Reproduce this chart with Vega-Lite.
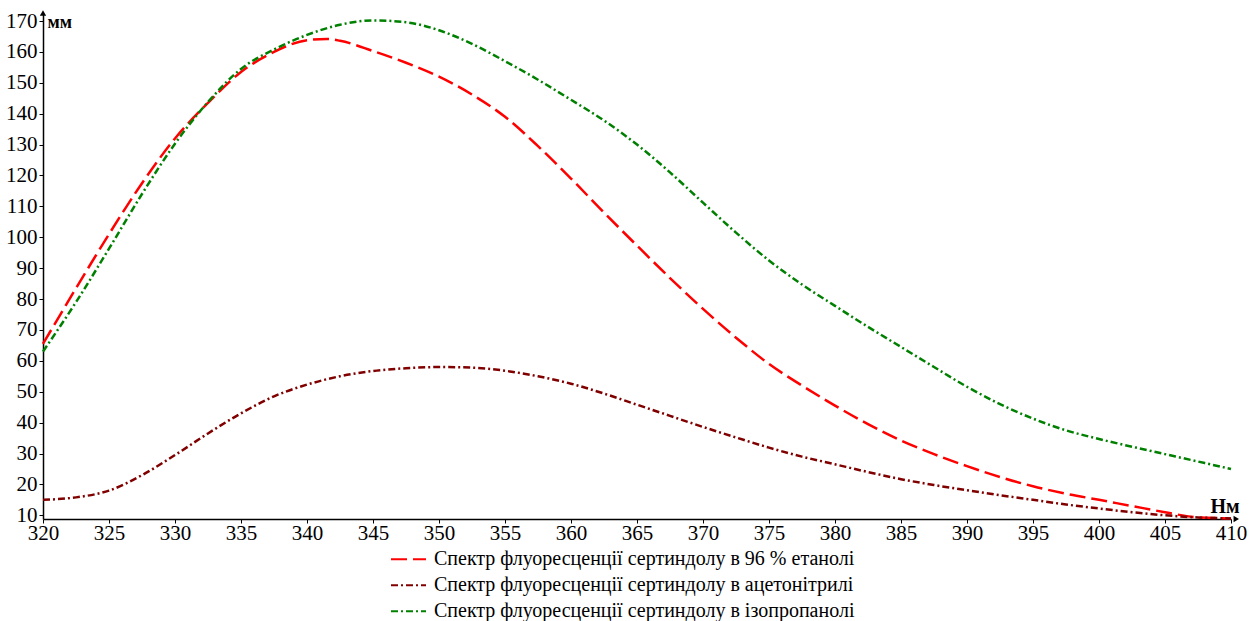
{
  "$schema": "https://vega.github.io/schema/vega-lite/v6.json",
  "width": 1188,
  "height": 506,
  "autosize": {"type": "none"},
  "padding": {"left": 43, "top": 13, "right": 22, "bottom": 102},
  "background": "white",
  "config": {
    "view": {"stroke": null},
    "font": "Liberation Serif",
    "axis": {
      "grid": false,
      "domainColor": "black",
      "domainWidth": 1.5,
      "tickColor": "black",
      "tickWidth": 1,
      "tickSize": 4,
      "labelFont": "Liberation Serif",
      "labelFontSize": 21,
      "labelColor": "black",
      "titleFont": "Liberation Serif",
      "titleColor": "black"
    }
  },
  "layer": [
    {
      "data": {
        "values": [
          {"x": 320, "y": 65.5, "series": "Спектр флуоресценції сертиндолу в 96 % етанолі"},
          {"x": 322.5, "y": 83.5, "series": "Спектр флуоресценції сертиндолу в 96 % етанолі"},
          {"x": 325, "y": 101, "series": "Спектр флуоресценції сертиндолу в 96 % етанолі"},
          {"x": 327.5, "y": 117.5, "series": "Спектр флуоресценції сертиндолу в 96 % етанолі"},
          {"x": 330, "y": 132, "series": "Спектр флуоресценції сертиндолу в 96 % етанолі"},
          {"x": 332.5, "y": 143.5, "series": "Спектр флуоресценції сертиндолу в 96 % етанолі"},
          {"x": 335, "y": 153.5, "series": "Спектр флуоресценції сертиндолу в 96 % етанолі"},
          {"x": 337.5, "y": 160, "series": "Спектр флуоресценції сертиндолу в 96 % етанолі"},
          {"x": 340, "y": 163.8, "series": "Спектр флуоресценції сертиндолу в 96 % етанолі"},
          {"x": 341.5, "y": 164.2, "series": "Спектр флуоресценції сертиндолу в 96 % етанолі"},
          {"x": 342.5, "y": 163.6, "series": "Спектр флуоресценції сертиндолу в 96 % етанолі"},
          {"x": 345, "y": 160.3, "series": "Спектр флуоресценції сертиндолу в 96 % етанолі"},
          {"x": 347.5, "y": 156.5, "series": "Спектр флуоресценції сертиндолу в 96 % етанолі"},
          {"x": 350, "y": 152, "series": "Спектр флуоресценції сертиндолу в 96 % етанолі"},
          {"x": 352.5, "y": 146.2, "series": "Спектр флуоресценції сертиндолу в 96 % етанолі"},
          {"x": 355, "y": 139, "series": "Спектр флуоресценції сертиндолу в 96 % етанолі"},
          {"x": 357.5, "y": 129.5, "series": "Спектр флуоресценції сертиндолу в 96 % етанолі"},
          {"x": 360, "y": 119, "series": "Спектр флуоресценції сертиндолу в 96 % етанолі"},
          {"x": 362.5, "y": 108, "series": "Спектр флуоресценції сертиндолу в 96 % етанолі"},
          {"x": 365, "y": 97.3, "series": "Спектр флуоресценції сертиндолу в 96 % етанолі"},
          {"x": 367.5, "y": 86.8, "series": "Спектр флуоресценції сертиндолу в 96 % етанолі"},
          {"x": 370, "y": 76.8, "series": "Спектр флуоресценції сертиндолу в 96 % етанолі"},
          {"x": 372.5, "y": 67.5, "series": "Спектр флуоресценції сертиндолу в 96 % етанолі"},
          {"x": 375, "y": 59, "series": "Спектр флуоресценції сертиндолу в 96 % етанолі"},
          {"x": 377.5, "y": 52, "series": "Спектр флуоресценції сертиндолу в 96 % етанолі"},
          {"x": 380, "y": 45.5, "series": "Спектр флуоресценції сертиндолу в 96 % етанолі"},
          {"x": 382.5, "y": 39.5, "series": "Спектр флуоресценції сертиндолу в 96 % етанолі"},
          {"x": 385, "y": 34.2, "series": "Спектр флуоресценції сертиндолу в 96 % етанолі"},
          {"x": 387.5, "y": 29.8, "series": "Спектр флуоресценції сертиндолу в 96 % етанолі"},
          {"x": 390, "y": 25.9, "series": "Спектр флуоресценції сертиндолу в 96 % етанолі"},
          {"x": 392.5, "y": 22.4, "series": "Спектр флуоресценції сертиндолу в 96 % етанолі"},
          {"x": 395, "y": 19.4, "series": "Спектр флуоресценції сертиндолу в 96 % етанолі"},
          {"x": 397.5, "y": 17, "series": "Спектр флуоресценції сертиндолу в 96 % етанолі"},
          {"x": 400, "y": 15, "series": "Спектр флуоресценції сертиндолу в 96 % етанолі"},
          {"x": 402.5, "y": 13, "series": "Спектр флуоресценції сертиндолу в 96 % етанолі"},
          {"x": 405, "y": 11, "series": "Спектр флуоресценції сертиндолу в 96 % етанолі"},
          {"x": 407.5, "y": 9.3, "series": "Спектр флуоресценції сертиндолу в 96 % етанолі"},
          {"x": 410, "y": 9, "series": "Спектр флуоресценції сертиндолу в 96 % етанолі"},

          {"x": 320, "y": 15, "series": "Спектр флуоресценції сертиндолу в ацетонітрилі"},
          {"x": 322.5, "y": 15.8, "series": "Спектр флуоресценції сертиндолу в ацетонітрилі"},
          {"x": 325, "y": 18, "series": "Спектр флуоресценції сертиндолу в ацетонітрилі"},
          {"x": 327.5, "y": 23, "series": "Спектр флуоресценції сертиндолу в ацетонітрилі"},
          {"x": 330, "y": 29.5, "series": "Спектр флуоресценції сертиндолу в ацетонітрилі"},
          {"x": 332.5, "y": 36.5, "series": "Спектр флуоресценції сертиндолу в ацетонітрилі"},
          {"x": 335, "y": 43, "series": "Спектр флуоресценції сертиндолу в ацетонітрилі"},
          {"x": 337.5, "y": 48.5, "series": "Спектр флуоресценції сертиндолу в ацетонітрилі"},
          {"x": 340, "y": 52.3, "series": "Спектр флуоресценції сертиндолу в ацетонітрилі"},
          {"x": 342.5, "y": 55, "series": "Спектр флуоресценції сертиндолу в ацетонітрилі"},
          {"x": 345, "y": 56.7, "series": "Спектр флуоресценції сертиндолу в ацетонітрилі"},
          {"x": 347.5, "y": 57.6, "series": "Спектр флуоресценції сертиндолу в ацетонітрилі"},
          {"x": 350, "y": 58, "series": "Спектр флуоресценції сертиндолу в ацетонітрилі"},
          {"x": 352.5, "y": 57.8, "series": "Спектр флуоресценції сертиндолу в ацетонітрилі"},
          {"x": 355, "y": 56.8, "series": "Спектр флуоресценції сертиндолу в ацетонітрилі"},
          {"x": 357.5, "y": 55, "series": "Спектр флуоресценції сертиндолу в ацетонітрилі"},
          {"x": 360, "y": 52.6, "series": "Спектр флуоресценції сертиндолу в ацетонітрилі"},
          {"x": 362.5, "y": 49.4, "series": "Спектр флуоресценції сертиндолу в ацетонітрилі"},
          {"x": 365, "y": 45.8, "series": "Спектр флуоресценції сертиндолу в ацетонітрилі"},
          {"x": 367.5, "y": 42.2, "series": "Спектр флуоресценції сертиндолу в ацетонітрилі"},
          {"x": 370, "y": 38.6, "series": "Спектр флуоресценції сертиндолу в ацетонітрилі"},
          {"x": 372.5, "y": 35.2, "series": "Спектр флуоресценції сертиндолу в ацетонітрилі"},
          {"x": 375, "y": 31.9, "series": "Спектр флуоресценції сертиндолу в ацетонітрилі"},
          {"x": 377.5, "y": 29, "series": "Спектр флуоресценції сертиндолу в ацетонітрилі"},
          {"x": 380, "y": 26.5, "series": "Спектр флуоресценції сертиндолу в ацетонітрилі"},
          {"x": 382.5, "y": 24, "series": "Спектр флуоресценції сертиндолу в ацетонітрилі"},
          {"x": 385, "y": 21.7, "series": "Спектр флуоресценції сертиндолу в ацетонітрилі"},
          {"x": 387.5, "y": 19.8, "series": "Спектр флуоресценції сертиндолу в ацетонітрилі"},
          {"x": 390, "y": 18.1, "series": "Спектр флуоресценції сертиндолу в ацетонітрилі"},
          {"x": 392.5, "y": 16.5, "series": "Спектр флуоресценції сертиндолу в ацетонітрилі"},
          {"x": 395, "y": 15, "series": "Спектр флуоресценції сертиндолу в ацетонітрилі"},
          {"x": 397.5, "y": 13.5, "series": "Спектр флуоресценції сертиндолу в ацетонітрилі"},
          {"x": 400, "y": 12.2, "series": "Спектр флуоресценції сертиндолу в ацетонітрилі"},
          {"x": 402.5, "y": 11, "series": "Спектр флуоресценції сертиндолу в ацетонітрилі"},
          {"x": 405, "y": 10, "series": "Спектр флуоресценції сертиндолу в ацетонітрилі"},
          {"x": 407.5, "y": 9.3, "series": "Спектр флуоресценції сертиндолу в ацетонітрилі"},
          {"x": 410, "y": 9, "series": "Спектр флуоресценції сертиндолу в ацетонітрилі"},

          {"x": 320, "y": 63, "series": "Спектр флуоресценції сертиндолу в ізопропанолі"},
          {"x": 322.5, "y": 79, "series": "Спектр флуоресценції сертиндолу в ізопропанолі"},
          {"x": 325, "y": 96.3, "series": "Спектр флуоресценції сертиндолу в ізопропанолі"},
          {"x": 327.5, "y": 114, "series": "Спектр флуоресценції сертиндолу в ізопропанолі"},
          {"x": 330, "y": 130.3, "series": "Спектр флуоресценції сертиндолу в ізопропанолі"},
          {"x": 332.5, "y": 143.8, "series": "Спектр флуоресценції сертиндолу в ізопропанолі"},
          {"x": 335, "y": 154.5, "series": "Спектр флуоресценції сертиндолу в ізопропанолі"},
          {"x": 337.5, "y": 160.8, "series": "Спектр флуоресценції сертиндолу в ізопропанолі"},
          {"x": 340, "y": 165.5, "series": "Спектр флуоресценції сертиндолу в ізопропанолі"},
          {"x": 342.5, "y": 168.8, "series": "Спектр флуоресценції сертиндолу в ізопропанолі"},
          {"x": 345, "y": 170.2, "series": "Спектр флуоресценції сертиндолу в ізопропанолі"},
          {"x": 347.5, "y": 169.6, "series": "Спектр флуоресценції сертиндолу в ізопропанолі"},
          {"x": 350, "y": 167, "series": "Спектр флуоресценції сертиндолу в ізопропанолі"},
          {"x": 352.5, "y": 162.6, "series": "Спектр флуоресценції сертиндолу в ізопропанолі"},
          {"x": 355, "y": 157, "series": "Спектр флуоресценції сертиндолу в ізопропанолі"},
          {"x": 357.5, "y": 151, "series": "Спектр флуоресценції сертиндолу в ізопропанолі"},
          {"x": 360, "y": 144.5, "series": "Спектр флуоресценції сертиндолу в ізопропанолі"},
          {"x": 362.5, "y": 137.8, "series": "Спектр флуоресценції сертиндолу в ізопропанолі"},
          {"x": 365, "y": 130, "series": "Спектр флуоресценції сертиндолу в ізопропанолі"},
          {"x": 367.5, "y": 121, "series": "Спектр флуоресценції сертиндолу в ізопропанолі"},
          {"x": 370, "y": 111.2, "series": "Спектр флуоресценції сертиндолу в ізопропанолі"},
          {"x": 372.5, "y": 101.5, "series": "Спектр флуоресценції сертиндолу в ізопропанолі"},
          {"x": 375, "y": 92.5, "series": "Спектр флуоресценції сертиндолу в ізопропанолі"},
          {"x": 377.5, "y": 84.7, "series": "Спектр флуоресценції сертиндолу в ізопропанолі"},
          {"x": 380, "y": 77.8, "series": "Спектр флуоресценції сертиндолу в ізопропанолі"},
          {"x": 382.5, "y": 71, "series": "Спектр флуоресценції сертиндолу в ізопропанолі"},
          {"x": 385, "y": 64.5, "series": "Спектр флуоресценції сертиндолу в ізопропанолі"},
          {"x": 387.5, "y": 58, "series": "Спектр флуоресценції сертиндолу в ізопропанолі"},
          {"x": 390, "y": 51.6, "series": "Спектр флуоресценції сертиндолу в ізопропанолі"},
          {"x": 392.5, "y": 46, "series": "Спектр флуоресценції сертиндолу в ізопропанолі"},
          {"x": 395, "y": 41.3, "series": "Спектр флуоресценції сертиндолу в ізопропанолі"},
          {"x": 397.5, "y": 37.5, "series": "Спектр флуоресценції сертиндолу в ізопропанолі"},
          {"x": 400, "y": 34.7, "series": "Спектр флуоресценції сертиндолу в ізопропанолі"},
          {"x": 402.5, "y": 32.2, "series": "Спектр флуоресценції сертиндолу в ізопропанолі"},
          {"x": 405, "y": 29.8, "series": "Спектр флуоресценції сертиндолу в ізопропанолі"},
          {"x": 407.5, "y": 27.4, "series": "Спектр флуоресценції сертиндолу в ізопропанолі"},
          {"x": 410, "y": 25, "series": "Спектр флуоресценції сертиндолу в ізопропанолі"}
        ]
      },
      "mark": {"type": "line", "interpolate": "monotone", "strokeWidth": 2.5},
      "encoding": {
        "x": {
          "field": "x",
          "type": "quantitative",
          "scale": {"domain": [320, 410], "nice": false, "zero": false},
          "axis": {
            "values": [320, 325, 330, 335, 340, 345, 350, 355, 360, 365, 370, 375, 380, 385, 390, 395, 400, 405, 410],
            "labelOverlap": false,
            "labelFlush": false,
            "labelBound": false,
            "labelPadding": -1,
            "title": "Нм",
            "titleFontSize": 20,
            "titleFontWeight": "bold",
            "titleX": 1167,
            "titleY": -7,
            "titleAlign": "left",
            "titleBaseline": "alphabetic"
          }
        },
        "y": {
          "field": "y",
          "type": "quantitative",
          "scale": {"domain": [8.8, 172.6], "nice": false, "zero": false},
          "axis": {
            "values": [10, 20, 30, 40, 50, 60, 70, 80, 90, 100, 110, 120, 130, 140, 150, 160, 170],
            "labelOverlap": false,
            "labelFlush": false,
            "labelBound": false,
            "labelPadding": 2,
            "labelBaseline": "middle",
            "title": "мм",
            "titleFontSize": 18,
            "titleFontWeight": "bold",
            "titleAngle": 0,
            "titleX": 4,
            "titleY": 14,
            "titleAlign": "left",
            "titleBaseline": "alphabetic"
          }
        },
        "color": {
          "field": "series",
          "type": "nominal",
          "scale": {
            "domain": ["Спектр флуоресценції сертиндолу в 96 % етанолі", "Спектр флуоресценції сертиндолу в ацетонітрилі", "Спектр флуоресценції сертиндолу в ізопропанолі"],
            "range": ["#ff0000", "#800000", "#008000"]
          },
          "legend": {
            "title": null,
            "orient": "none",
            "legendX": 347,
            "legendY": 533.5,
            "symbolType": "stroke",
            "symbolSize": 1225,
            "symbolStrokeWidth": 2,
            "labelFont": "Liberation Serif",
            "labelFontSize": 20,
            "labelColor": "black",
            "labelOffset": 7,
            "clipHeight": 25.5,
            "rowPadding": 0,
            "labelLimit": 0
          }
        },
        "strokeDash": {
          "field": "series",
          "type": "nominal",
          "scale": {
            "domain": ["Спектр флуоресценції сертиндолу в 96 % етанолі", "Спектр флуоресценції сертиндолу в ацетонітрилі", "Спектр флуоресценції сертиндолу в ізопропанолі"],
            "range": [[16, 6], [7, 3, 2, 3], [7, 3, 2, 3]]
          },
          "legend": {
            "title": null,
            "orient": "none",
            "legendX": 347,
            "legendY": 533.5,
            "symbolType": "stroke",
            "symbolSize": 1225,
            "symbolStrokeWidth": 2,
            "labelFont": "Liberation Serif",
            "labelFontSize": 20,
            "labelColor": "black",
            "labelOffset": 7,
            "clipHeight": 25.5,
            "rowPadding": 0,
            "labelLimit": 0
          }
        }
      }
    },
    {
      "data": {"values": [{}]},
      "mark": {"type": "point", "shape": "triangle-up", "filled": true, "color": "black", "size": 40, "opacity": 1},
      "encoding": {
        "x": {
          "datum": 320,
          "type": "quantitative",
          "axis": {
            "values": [320, 325, 330, 335, 340, 345, 350, 355, 360, 365, 370, 375, 380, 385, 390, 395, 400, 405, 410],
            "labelOverlap": false,
            "labelFlush": false,
            "labelBound": false,
            "labelPadding": -1,
            "title": "Нм",
            "titleFontSize": 20,
            "titleFontWeight": "bold",
            "titleX": 1167,
            "titleY": -7,
            "titleAlign": "left",
            "titleBaseline": "alphabetic"
          }
        },
        "y": {
          "datum": 172.6,
          "type": "quantitative",
          "axis": {
            "values": [10, 20, 30, 40, 50, 60, 70, 80, 90, 100, 110, 120, 130, 140, 150, 160, 170],
            "labelOverlap": false,
            "labelFlush": false,
            "labelBound": false,
            "labelPadding": 2,
            "labelBaseline": "middle",
            "title": "мм",
            "titleFontSize": 18,
            "titleFontWeight": "bold",
            "titleAngle": 0,
            "titleX": 4,
            "titleY": 14,
            "titleAlign": "left",
            "titleBaseline": "alphabetic"
          }
        }
      }
    },
    {
      "data": {"values": [{}]},
      "mark": {"type": "point", "shape": "triangle-right", "filled": true, "color": "black", "size": 40, "opacity": 1},
      "encoding": {
        "x": {
          "datum": 410.4,
          "type": "quantitative",
          "axis": {
            "values": [320, 325, 330, 335, 340, 345, 350, 355, 360, 365, 370, 375, 380, 385, 390, 395, 400, 405, 410],
            "labelOverlap": false,
            "labelFlush": false,
            "labelBound": false,
            "labelPadding": -1,
            "title": "Нм",
            "titleFontSize": 20,
            "titleFontWeight": "bold",
            "titleX": 1167,
            "titleY": -7,
            "titleAlign": "left",
            "titleBaseline": "alphabetic"
          }
        },
        "y": {
          "datum": 8.8,
          "type": "quantitative",
          "axis": {
            "values": [10, 20, 30, 40, 50, 60, 70, 80, 90, 100, 110, 120, 130, 140, 150, 160, 170],
            "labelOverlap": false,
            "labelFlush": false,
            "labelBound": false,
            "labelPadding": 2,
            "labelBaseline": "middle",
            "title": "мм",
            "titleFontSize": 18,
            "titleFontWeight": "bold",
            "titleAngle": 0,
            "titleX": 4,
            "titleY": 14,
            "titleAlign": "left",
            "titleBaseline": "alphabetic"
          }
        }
      }
    }
  ]
}
